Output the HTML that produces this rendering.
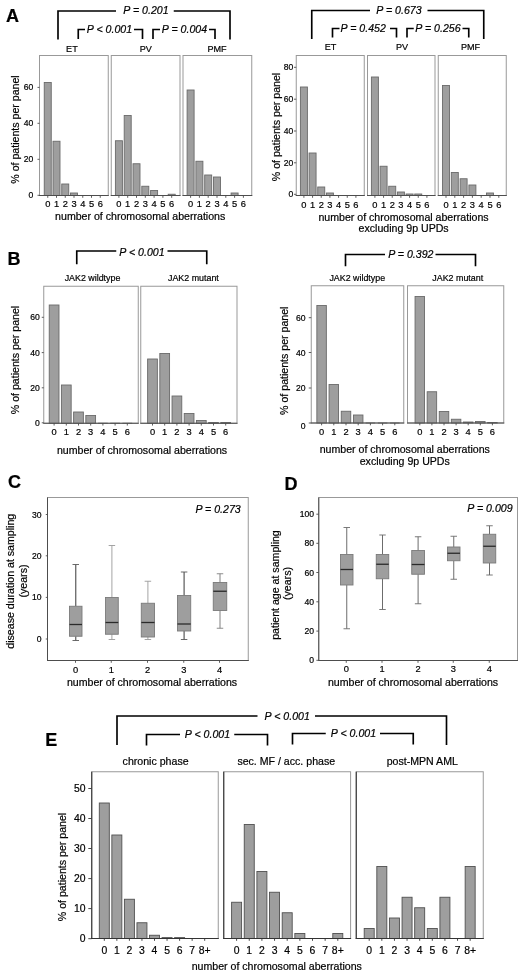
<!DOCTYPE html>
<html lang="en">
<head>
<meta charset="utf-8">
<title>Figure</title>
<style>
html,body{margin:0;padding:0;background:#fff;}
body{width:520px;height:971px;overflow:hidden;}
svg{display:block;font-family:'Liberation Sans', Arial, sans-serif;}
text{stroke:#000;stroke-width:0.2px;}
</style>
</head>
<body>
<svg width="520" height="971" viewBox="0 0 520 971">
<rect x="0" y="0" width="520" height="971" fill="#ffffff"/>
<text x="12.5" y="22" font-size="18" text-anchor="middle" fill="#000" font-weight="bold">A</text>
<path d="M58 39.5V11H116" fill="none" stroke="#000" stroke-width="1.65" stroke-linejoin="miter"/>
<path d="M173.75 11H230V39.5" fill="none" stroke="#000" stroke-width="1.65" stroke-linejoin="miter"/>
<text x="146" y="14.3" font-size="10.6" text-anchor="middle" fill="#000" font-style="italic">P = 0.201</text>
<path d="M78.25 39V29.5H85" fill="none" stroke="#000" stroke-width="1.65" stroke-linejoin="miter"/>
<path d="M134 29.5H142.5V39" fill="none" stroke="#000" stroke-width="1.65" stroke-linejoin="miter"/>
<text x="109.5" y="32.8" font-size="10.6" text-anchor="middle" fill="#000" font-style="italic">P &lt; 0.001</text>
<path d="M153 39V29.5H160" fill="none" stroke="#000" stroke-width="1.65" stroke-linejoin="miter"/>
<path d="M209 29.5H215V39" fill="none" stroke="#000" stroke-width="1.65" stroke-linejoin="miter"/>
<text x="184.5" y="32.8" font-size="10.6" text-anchor="middle" fill="#000" font-style="italic">P = 0.004</text>
<rect x="39.5" y="55.5" width="68.75" height="140" fill="#fff" stroke="#999" stroke-width="1"/>
<rect x="44.25" y="82.5" width="7" height="113" fill="#9e9e9e" stroke="#6a6a6a" stroke-width="0.9"/>
<rect x="53" y="141.25" width="7" height="54.25" fill="#9e9e9e" stroke="#6a6a6a" stroke-width="0.9"/>
<rect x="61.75" y="184" width="7" height="11.5" fill="#9e9e9e" stroke="#6a6a6a" stroke-width="0.9"/>
<rect x="70.5" y="193" width="7" height="2.5" fill="#9e9e9e" stroke="#6a6a6a" stroke-width="0.9"/>
<line x1="79.25" y1="195.5" x2="86.25" y2="195.5" stroke="#6a6a6a" stroke-width="0.9"/>
<line x1="88" y1="195.5" x2="95" y2="195.5" stroke="#6a6a6a" stroke-width="0.9"/>
<line x1="96.75" y1="195.5" x2="103.75" y2="195.5" stroke="#6a6a6a" stroke-width="0.9"/>
<line x1="39" y1="195.5" x2="108.75" y2="195.5" stroke="#4d4d4d" stroke-width="1"/>
<line x1="47.75" y1="195.5" x2="47.75" y2="197.8" stroke="#4d4d4d" stroke-width="0.9"/>
<text x="47.75" y="207.3" font-size="9.3" text-anchor="middle" fill="#000">0</text>
<line x1="56.5" y1="195.5" x2="56.5" y2="197.8" stroke="#4d4d4d" stroke-width="0.9"/>
<text x="56.5" y="207.3" font-size="9.3" text-anchor="middle" fill="#000">1</text>
<line x1="65.25" y1="195.5" x2="65.25" y2="197.8" stroke="#4d4d4d" stroke-width="0.9"/>
<text x="65.25" y="207.3" font-size="9.3" text-anchor="middle" fill="#000">2</text>
<line x1="74" y1="195.5" x2="74" y2="197.8" stroke="#4d4d4d" stroke-width="0.9"/>
<text x="74" y="207.3" font-size="9.3" text-anchor="middle" fill="#000">3</text>
<line x1="82.75" y1="195.5" x2="82.75" y2="197.8" stroke="#4d4d4d" stroke-width="0.9"/>
<text x="82.75" y="207.3" font-size="9.3" text-anchor="middle" fill="#000">4</text>
<line x1="91.5" y1="195.5" x2="91.5" y2="197.8" stroke="#4d4d4d" stroke-width="0.9"/>
<text x="91.5" y="207.3" font-size="9.3" text-anchor="middle" fill="#000">5</text>
<line x1="100.25" y1="195.5" x2="100.25" y2="197.8" stroke="#4d4d4d" stroke-width="0.9"/>
<text x="100.25" y="207.3" font-size="9.3" text-anchor="middle" fill="#000">6</text>
<text x="71.9" y="52.3" font-size="9.1" text-anchor="middle" fill="#000">ET</text>
<rect x="111.25" y="55.5" width="68.75" height="140" fill="#fff" stroke="#999" stroke-width="1"/>
<rect x="115.4" y="140.75" width="7" height="54.75" fill="#9e9e9e" stroke="#6a6a6a" stroke-width="0.9"/>
<rect x="124.2" y="115.5" width="7" height="80" fill="#9e9e9e" stroke="#6a6a6a" stroke-width="0.9"/>
<rect x="133" y="163.75" width="7" height="31.75" fill="#9e9e9e" stroke="#6a6a6a" stroke-width="0.9"/>
<rect x="141.8" y="186.25" width="7" height="9.25" fill="#9e9e9e" stroke="#6a6a6a" stroke-width="0.9"/>
<rect x="150.6" y="190.5" width="7" height="5" fill="#9e9e9e" stroke="#6a6a6a" stroke-width="0.9"/>
<line x1="159.4" y1="195.5" x2="166.4" y2="195.5" stroke="#6a6a6a" stroke-width="0.9"/>
<rect x="168.2" y="194.25" width="7" height="1.25" fill="#9e9e9e" stroke="#6a6a6a" stroke-width="0.9"/>
<line x1="110.75" y1="195.5" x2="180.5" y2="195.5" stroke="#4d4d4d" stroke-width="1"/>
<line x1="118.9" y1="195.5" x2="118.9" y2="197.8" stroke="#4d4d4d" stroke-width="0.9"/>
<text x="118.9" y="207.3" font-size="9.3" text-anchor="middle" fill="#000">0</text>
<line x1="127.7" y1="195.5" x2="127.7" y2="197.8" stroke="#4d4d4d" stroke-width="0.9"/>
<text x="127.7" y="207.3" font-size="9.3" text-anchor="middle" fill="#000">1</text>
<line x1="136.5" y1="195.5" x2="136.5" y2="197.8" stroke="#4d4d4d" stroke-width="0.9"/>
<text x="136.5" y="207.3" font-size="9.3" text-anchor="middle" fill="#000">2</text>
<line x1="145.3" y1="195.5" x2="145.3" y2="197.8" stroke="#4d4d4d" stroke-width="0.9"/>
<text x="145.3" y="207.3" font-size="9.3" text-anchor="middle" fill="#000">3</text>
<line x1="154.1" y1="195.5" x2="154.1" y2="197.8" stroke="#4d4d4d" stroke-width="0.9"/>
<text x="154.1" y="207.3" font-size="9.3" text-anchor="middle" fill="#000">4</text>
<line x1="162.9" y1="195.5" x2="162.9" y2="197.8" stroke="#4d4d4d" stroke-width="0.9"/>
<text x="162.9" y="207.3" font-size="9.3" text-anchor="middle" fill="#000">5</text>
<line x1="171.7" y1="195.5" x2="171.7" y2="197.8" stroke="#4d4d4d" stroke-width="0.9"/>
<text x="171.7" y="207.3" font-size="9.3" text-anchor="middle" fill="#000">6</text>
<text x="145.75" y="52.3" font-size="9.1" text-anchor="middle" fill="#000">PV</text>
<rect x="183" y="55.5" width="68.75" height="140" fill="#fff" stroke="#999" stroke-width="1"/>
<rect x="187.1" y="90" width="7" height="105.5" fill="#9e9e9e" stroke="#6a6a6a" stroke-width="0.9"/>
<rect x="195.9" y="161.25" width="7" height="34.25" fill="#9e9e9e" stroke="#6a6a6a" stroke-width="0.9"/>
<rect x="204.7" y="175" width="7" height="20.5" fill="#9e9e9e" stroke="#6a6a6a" stroke-width="0.9"/>
<rect x="213.5" y="177" width="7" height="18.5" fill="#9e9e9e" stroke="#6a6a6a" stroke-width="0.9"/>
<line x1="222.3" y1="195.5" x2="229.3" y2="195.5" stroke="#6a6a6a" stroke-width="0.9"/>
<rect x="231.1" y="193" width="7" height="2.5" fill="#9e9e9e" stroke="#6a6a6a" stroke-width="0.9"/>
<line x1="239.9" y1="195.5" x2="246.9" y2="195.5" stroke="#6a6a6a" stroke-width="0.9"/>
<line x1="182.5" y1="195.5" x2="252.25" y2="195.5" stroke="#4d4d4d" stroke-width="1"/>
<line x1="190.6" y1="195.5" x2="190.6" y2="197.8" stroke="#4d4d4d" stroke-width="0.9"/>
<text x="190.6" y="207.3" font-size="9.3" text-anchor="middle" fill="#000">0</text>
<line x1="199.4" y1="195.5" x2="199.4" y2="197.8" stroke="#4d4d4d" stroke-width="0.9"/>
<text x="199.4" y="207.3" font-size="9.3" text-anchor="middle" fill="#000">1</text>
<line x1="208.2" y1="195.5" x2="208.2" y2="197.8" stroke="#4d4d4d" stroke-width="0.9"/>
<text x="208.2" y="207.3" font-size="9.3" text-anchor="middle" fill="#000">2</text>
<line x1="217" y1="195.5" x2="217" y2="197.8" stroke="#4d4d4d" stroke-width="0.9"/>
<text x="217" y="207.3" font-size="9.3" text-anchor="middle" fill="#000">3</text>
<line x1="225.8" y1="195.5" x2="225.8" y2="197.8" stroke="#4d4d4d" stroke-width="0.9"/>
<text x="225.8" y="207.3" font-size="9.3" text-anchor="middle" fill="#000">4</text>
<line x1="234.6" y1="195.5" x2="234.6" y2="197.8" stroke="#4d4d4d" stroke-width="0.9"/>
<text x="234.6" y="207.3" font-size="9.3" text-anchor="middle" fill="#000">5</text>
<line x1="243.4" y1="195.5" x2="243.4" y2="197.8" stroke="#4d4d4d" stroke-width="0.9"/>
<text x="243.4" y="207.3" font-size="9.3" text-anchor="middle" fill="#000">6</text>
<text x="217" y="52.3" font-size="9.1" text-anchor="middle" fill="#000">PMF</text>
<line x1="37.5" y1="195.3" x2="39.5" y2="195.3" stroke="#4d4d4d" stroke-width="0.9"/>
<text x="33.4" y="198.38" font-size="8.6" text-anchor="end" fill="#000">0</text>
<line x1="37.5" y1="159.3" x2="39.5" y2="159.3" stroke="#4d4d4d" stroke-width="0.9"/>
<text x="33.4" y="162.38" font-size="8.6" text-anchor="end" fill="#000">20</text>
<line x1="37.5" y1="123.3" x2="39.5" y2="123.3" stroke="#4d4d4d" stroke-width="0.9"/>
<text x="33.4" y="126.38" font-size="8.6" text-anchor="end" fill="#000">40</text>
<line x1="37.5" y1="87.4" x2="39.5" y2="87.4" stroke="#4d4d4d" stroke-width="0.9"/>
<text x="33.4" y="90.48" font-size="8.6" text-anchor="end" fill="#000">60</text>
<text x="18.7" y="129.5" font-size="10.6" text-anchor="middle" fill="#000" transform="rotate(-90 18.7 129.5)">% of patients per panel</text>
<text x="140.2" y="220" font-size="10.6" text-anchor="middle" fill="#000">number of chromosomal aberrations</text>
<path d="M311.75 39V10.5H370" fill="none" stroke="#000" stroke-width="1.65" stroke-linejoin="miter"/>
<path d="M427.5 10.5H483.75V39" fill="none" stroke="#000" stroke-width="1.65" stroke-linejoin="miter"/>
<text x="399" y="14" font-size="10.6" text-anchor="middle" fill="#000" font-style="italic">P = 0.673</text>
<path d="M332.5 37.5V28.5H339.5" fill="none" stroke="#000" stroke-width="1.65" stroke-linejoin="miter"/>
<path d="M390 28.5H396.5V37.5" fill="none" stroke="#000" stroke-width="1.65" stroke-linejoin="miter"/>
<text x="363.2" y="32" font-size="10.6" text-anchor="middle" fill="#000" font-style="italic">P = 0.452</text>
<path d="M407 37.5V28.5H413.75" fill="none" stroke="#000" stroke-width="1.65" stroke-linejoin="miter"/>
<path d="M462.5 28.5H468.75V37.5" fill="none" stroke="#000" stroke-width="1.65" stroke-linejoin="miter"/>
<text x="438" y="32" font-size="10.6" text-anchor="middle" fill="#000" font-style="italic">P = 0.256</text>
<rect x="296.25" y="55.5" width="68" height="140" fill="#fff" stroke="#999" stroke-width="1"/>
<rect x="300.4" y="87" width="7" height="108.5" fill="#9e9e9e" stroke="#6a6a6a" stroke-width="0.9"/>
<rect x="309.07" y="153" width="7" height="42.5" fill="#9e9e9e" stroke="#6a6a6a" stroke-width="0.9"/>
<rect x="317.74" y="187" width="7" height="8.5" fill="#9e9e9e" stroke="#6a6a6a" stroke-width="0.9"/>
<rect x="326.41" y="193" width="7" height="2.5" fill="#9e9e9e" stroke="#6a6a6a" stroke-width="0.9"/>
<line x1="335.08" y1="195.5" x2="342.08" y2="195.5" stroke="#6a6a6a" stroke-width="0.9"/>
<line x1="343.75" y1="195.5" x2="350.75" y2="195.5" stroke="#6a6a6a" stroke-width="0.9"/>
<line x1="352.42" y1="195.5" x2="359.42" y2="195.5" stroke="#6a6a6a" stroke-width="0.9"/>
<line x1="295.75" y1="195.5" x2="364.75" y2="195.5" stroke="#4d4d4d" stroke-width="1"/>
<line x1="303.9" y1="195.5" x2="303.9" y2="197.8" stroke="#4d4d4d" stroke-width="0.9"/>
<text x="303.9" y="207.5" font-size="9.3" text-anchor="middle" fill="#000">0</text>
<line x1="312.57" y1="195.5" x2="312.57" y2="197.8" stroke="#4d4d4d" stroke-width="0.9"/>
<text x="312.57" y="207.5" font-size="9.3" text-anchor="middle" fill="#000">1</text>
<line x1="321.24" y1="195.5" x2="321.24" y2="197.8" stroke="#4d4d4d" stroke-width="0.9"/>
<text x="321.24" y="207.5" font-size="9.3" text-anchor="middle" fill="#000">2</text>
<line x1="329.91" y1="195.5" x2="329.91" y2="197.8" stroke="#4d4d4d" stroke-width="0.9"/>
<text x="329.91" y="207.5" font-size="9.3" text-anchor="middle" fill="#000">3</text>
<line x1="338.58" y1="195.5" x2="338.58" y2="197.8" stroke="#4d4d4d" stroke-width="0.9"/>
<text x="338.58" y="207.5" font-size="9.3" text-anchor="middle" fill="#000">4</text>
<line x1="347.25" y1="195.5" x2="347.25" y2="197.8" stroke="#4d4d4d" stroke-width="0.9"/>
<text x="347.25" y="207.5" font-size="9.3" text-anchor="middle" fill="#000">5</text>
<line x1="355.92" y1="195.5" x2="355.92" y2="197.8" stroke="#4d4d4d" stroke-width="0.9"/>
<text x="355.92" y="207.5" font-size="9.3" text-anchor="middle" fill="#000">6</text>
<text x="330.5" y="50" font-size="9.1" text-anchor="middle" fill="#000">ET</text>
<rect x="367.5" y="55.5" width="67.5" height="140" fill="#fff" stroke="#999" stroke-width="1"/>
<rect x="371.4" y="77" width="7" height="118.5" fill="#9e9e9e" stroke="#6a6a6a" stroke-width="0.9"/>
<rect x="380.07" y="166.25" width="7" height="29.25" fill="#9e9e9e" stroke="#6a6a6a" stroke-width="0.9"/>
<rect x="388.74" y="186.25" width="7" height="9.25" fill="#9e9e9e" stroke="#6a6a6a" stroke-width="0.9"/>
<rect x="397.41" y="192" width="7" height="3.5" fill="#9e9e9e" stroke="#6a6a6a" stroke-width="0.9"/>
<rect x="406.08" y="194" width="7" height="1.5" fill="#9e9e9e" stroke="#6a6a6a" stroke-width="0.9"/>
<rect x="414.75" y="194" width="7" height="1.5" fill="#9e9e9e" stroke="#6a6a6a" stroke-width="0.9"/>
<line x1="423.42" y1="195.5" x2="430.42" y2="195.5" stroke="#6a6a6a" stroke-width="0.9"/>
<line x1="367" y1="195.5" x2="435.5" y2="195.5" stroke="#4d4d4d" stroke-width="1"/>
<line x1="374.9" y1="195.5" x2="374.9" y2="197.8" stroke="#4d4d4d" stroke-width="0.9"/>
<text x="374.9" y="207.5" font-size="9.3" text-anchor="middle" fill="#000">0</text>
<line x1="383.57" y1="195.5" x2="383.57" y2="197.8" stroke="#4d4d4d" stroke-width="0.9"/>
<text x="383.57" y="207.5" font-size="9.3" text-anchor="middle" fill="#000">1</text>
<line x1="392.24" y1="195.5" x2="392.24" y2="197.8" stroke="#4d4d4d" stroke-width="0.9"/>
<text x="392.24" y="207.5" font-size="9.3" text-anchor="middle" fill="#000">2</text>
<line x1="400.91" y1="195.5" x2="400.91" y2="197.8" stroke="#4d4d4d" stroke-width="0.9"/>
<text x="400.91" y="207.5" font-size="9.3" text-anchor="middle" fill="#000">3</text>
<line x1="409.58" y1="195.5" x2="409.58" y2="197.8" stroke="#4d4d4d" stroke-width="0.9"/>
<text x="409.58" y="207.5" font-size="9.3" text-anchor="middle" fill="#000">4</text>
<line x1="418.25" y1="195.5" x2="418.25" y2="197.8" stroke="#4d4d4d" stroke-width="0.9"/>
<text x="418.25" y="207.5" font-size="9.3" text-anchor="middle" fill="#000">5</text>
<line x1="426.92" y1="195.5" x2="426.92" y2="197.8" stroke="#4d4d4d" stroke-width="0.9"/>
<text x="426.92" y="207.5" font-size="9.3" text-anchor="middle" fill="#000">6</text>
<text x="402" y="50" font-size="9.1" text-anchor="middle" fill="#000">PV</text>
<rect x="438.25" y="55.5" width="68" height="140" fill="#fff" stroke="#999" stroke-width="1"/>
<rect x="442.5" y="85.5" width="7" height="110" fill="#9e9e9e" stroke="#6a6a6a" stroke-width="0.9"/>
<rect x="451.3" y="172.5" width="7" height="23" fill="#9e9e9e" stroke="#6a6a6a" stroke-width="0.9"/>
<rect x="460.1" y="178.75" width="7" height="16.75" fill="#9e9e9e" stroke="#6a6a6a" stroke-width="0.9"/>
<rect x="468.9" y="185" width="7" height="10.5" fill="#9e9e9e" stroke="#6a6a6a" stroke-width="0.9"/>
<line x1="477.7" y1="195.5" x2="484.7" y2="195.5" stroke="#6a6a6a" stroke-width="0.9"/>
<rect x="486.5" y="193" width="7" height="2.5" fill="#9e9e9e" stroke="#6a6a6a" stroke-width="0.9"/>
<line x1="495.3" y1="195.5" x2="502.3" y2="195.5" stroke="#6a6a6a" stroke-width="0.9"/>
<line x1="437.75" y1="195.5" x2="506.75" y2="195.5" stroke="#4d4d4d" stroke-width="1"/>
<line x1="446" y1="195.5" x2="446" y2="197.8" stroke="#4d4d4d" stroke-width="0.9"/>
<text x="446" y="207.5" font-size="9.3" text-anchor="middle" fill="#000">0</text>
<line x1="454.8" y1="195.5" x2="454.8" y2="197.8" stroke="#4d4d4d" stroke-width="0.9"/>
<text x="454.8" y="207.5" font-size="9.3" text-anchor="middle" fill="#000">1</text>
<line x1="463.6" y1="195.5" x2="463.6" y2="197.8" stroke="#4d4d4d" stroke-width="0.9"/>
<text x="463.6" y="207.5" font-size="9.3" text-anchor="middle" fill="#000">2</text>
<line x1="472.4" y1="195.5" x2="472.4" y2="197.8" stroke="#4d4d4d" stroke-width="0.9"/>
<text x="472.4" y="207.5" font-size="9.3" text-anchor="middle" fill="#000">3</text>
<line x1="481.2" y1="195.5" x2="481.2" y2="197.8" stroke="#4d4d4d" stroke-width="0.9"/>
<text x="481.2" y="207.5" font-size="9.3" text-anchor="middle" fill="#000">4</text>
<line x1="490" y1="195.5" x2="490" y2="197.8" stroke="#4d4d4d" stroke-width="0.9"/>
<text x="490" y="207.5" font-size="9.3" text-anchor="middle" fill="#000">5</text>
<line x1="498.8" y1="195.5" x2="498.8" y2="197.8" stroke="#4d4d4d" stroke-width="0.9"/>
<text x="498.8" y="207.5" font-size="9.3" text-anchor="middle" fill="#000">6</text>
<text x="470.5" y="50" font-size="9.1" text-anchor="middle" fill="#000">PMF</text>
<line x1="293.95" y1="194.3" x2="296.25" y2="194.3" stroke="#4d4d4d" stroke-width="0.9"/>
<text x="293.4" y="197.38" font-size="8.6" text-anchor="end" fill="#000">0</text>
<line x1="293.95" y1="162.8" x2="296.25" y2="162.8" stroke="#4d4d4d" stroke-width="0.9"/>
<text x="293.4" y="165.88" font-size="8.6" text-anchor="end" fill="#000">20</text>
<line x1="293.95" y1="131" x2="296.25" y2="131" stroke="#4d4d4d" stroke-width="0.9"/>
<text x="293.4" y="134.08" font-size="8.6" text-anchor="end" fill="#000">40</text>
<line x1="293.95" y1="99.2" x2="296.25" y2="99.2" stroke="#4d4d4d" stroke-width="0.9"/>
<text x="293.4" y="102.28" font-size="8.6" text-anchor="end" fill="#000">60</text>
<line x1="293.95" y1="67.3" x2="296.25" y2="67.3" stroke="#4d4d4d" stroke-width="0.9"/>
<text x="293.4" y="70.38" font-size="8.6" text-anchor="end" fill="#000">80</text>
<text x="279.5" y="127" font-size="10.6" text-anchor="middle" fill="#000" transform="rotate(-90 279.5 127)">% of patients per panel</text>
<text x="403.5" y="220.75" font-size="10.6" text-anchor="middle" fill="#000">number of chromosomal aberrations</text>
<text x="403.6" y="232.3" font-size="10.6" text-anchor="middle" fill="#000">excluding 9p UPDs</text>
<text x="14.1" y="265" font-size="18" text-anchor="middle" fill="#000" font-weight="bold">B</text>
<path d="M76.75 264.25V251H116.25" fill="none" stroke="#000" stroke-width="1.65" stroke-linejoin="miter"/>
<path d="M167.5 251H206.75V264.25" fill="none" stroke="#000" stroke-width="1.65" stroke-linejoin="miter"/>
<text x="142" y="255.7" font-size="10.6" text-anchor="middle" fill="#000" font-style="italic">P &lt; 0.001</text>
<rect x="43.75" y="286.25" width="94.5" height="137" fill="#fff" stroke="#999" stroke-width="1"/>
<rect x="49.23" y="305" width="9.75" height="118.25" fill="#9e9e9e" stroke="#6a6a6a" stroke-width="0.9"/>
<rect x="61.42" y="385" width="9.75" height="38.25" fill="#9e9e9e" stroke="#6a6a6a" stroke-width="0.9"/>
<rect x="73.62" y="412" width="9.75" height="11.25" fill="#9e9e9e" stroke="#6a6a6a" stroke-width="0.9"/>
<rect x="85.82" y="415.5" width="9.75" height="7.75" fill="#9e9e9e" stroke="#6a6a6a" stroke-width="0.9"/>
<line x1="98.03" y1="423.25" x2="107.78" y2="423.25" stroke="#6a6a6a" stroke-width="0.9"/>
<line x1="110.22" y1="423.25" x2="119.97" y2="423.25" stroke="#6a6a6a" stroke-width="0.9"/>
<line x1="122.42" y1="423.25" x2="132.17" y2="423.25" stroke="#6a6a6a" stroke-width="0.9"/>
<line x1="43.25" y1="423.25" x2="138.75" y2="423.25" stroke="#4d4d4d" stroke-width="1"/>
<line x1="54.1" y1="423.25" x2="54.1" y2="425.55" stroke="#4d4d4d" stroke-width="0.9"/>
<text x="54.1" y="435" font-size="9.3" text-anchor="middle" fill="#000">0</text>
<line x1="66.3" y1="423.25" x2="66.3" y2="425.55" stroke="#4d4d4d" stroke-width="0.9"/>
<text x="66.3" y="435" font-size="9.3" text-anchor="middle" fill="#000">1</text>
<line x1="78.5" y1="423.25" x2="78.5" y2="425.55" stroke="#4d4d4d" stroke-width="0.9"/>
<text x="78.5" y="435" font-size="9.3" text-anchor="middle" fill="#000">2</text>
<line x1="90.7" y1="423.25" x2="90.7" y2="425.55" stroke="#4d4d4d" stroke-width="0.9"/>
<text x="90.7" y="435" font-size="9.3" text-anchor="middle" fill="#000">3</text>
<line x1="102.9" y1="423.25" x2="102.9" y2="425.55" stroke="#4d4d4d" stroke-width="0.9"/>
<text x="102.9" y="435" font-size="9.3" text-anchor="middle" fill="#000">4</text>
<line x1="115.1" y1="423.25" x2="115.1" y2="425.55" stroke="#4d4d4d" stroke-width="0.9"/>
<text x="115.1" y="435" font-size="9.3" text-anchor="middle" fill="#000">5</text>
<line x1="127.3" y1="423.25" x2="127.3" y2="425.55" stroke="#4d4d4d" stroke-width="0.9"/>
<text x="127.3" y="435" font-size="9.3" text-anchor="middle" fill="#000">6</text>
<text x="92.5" y="281" font-size="8.9" text-anchor="middle" fill="#000">JAK2 wildtype</text>
<rect x="140.75" y="286.25" width="96.25" height="137" fill="#fff" stroke="#999" stroke-width="1"/>
<rect x="147.62" y="359" width="9.75" height="64.25" fill="#9e9e9e" stroke="#6a6a6a" stroke-width="0.9"/>
<rect x="159.82" y="353.5" width="9.75" height="69.75" fill="#9e9e9e" stroke="#6a6a6a" stroke-width="0.9"/>
<rect x="172.03" y="396" width="9.75" height="27.25" fill="#9e9e9e" stroke="#6a6a6a" stroke-width="0.9"/>
<rect x="184.22" y="413.5" width="9.75" height="9.75" fill="#9e9e9e" stroke="#6a6a6a" stroke-width="0.9"/>
<rect x="196.43" y="420.5" width="9.75" height="2.75" fill="#9e9e9e" stroke="#6a6a6a" stroke-width="0.9"/>
<rect x="208.62" y="422.5" width="9.75" height="0.75" fill="#9e9e9e" stroke="#6a6a6a" stroke-width="0.9"/>
<rect x="220.82" y="422.5" width="9.75" height="0.75" fill="#9e9e9e" stroke="#6a6a6a" stroke-width="0.9"/>
<line x1="140.25" y1="423.25" x2="237.5" y2="423.25" stroke="#4d4d4d" stroke-width="1"/>
<line x1="152.5" y1="423.25" x2="152.5" y2="425.55" stroke="#4d4d4d" stroke-width="0.9"/>
<text x="152.5" y="435" font-size="9.3" text-anchor="middle" fill="#000">0</text>
<line x1="164.7" y1="423.25" x2="164.7" y2="425.55" stroke="#4d4d4d" stroke-width="0.9"/>
<text x="164.7" y="435" font-size="9.3" text-anchor="middle" fill="#000">1</text>
<line x1="176.9" y1="423.25" x2="176.9" y2="425.55" stroke="#4d4d4d" stroke-width="0.9"/>
<text x="176.9" y="435" font-size="9.3" text-anchor="middle" fill="#000">2</text>
<line x1="189.1" y1="423.25" x2="189.1" y2="425.55" stroke="#4d4d4d" stroke-width="0.9"/>
<text x="189.1" y="435" font-size="9.3" text-anchor="middle" fill="#000">3</text>
<line x1="201.3" y1="423.25" x2="201.3" y2="425.55" stroke="#4d4d4d" stroke-width="0.9"/>
<text x="201.3" y="435" font-size="9.3" text-anchor="middle" fill="#000">4</text>
<line x1="213.5" y1="423.25" x2="213.5" y2="425.55" stroke="#4d4d4d" stroke-width="0.9"/>
<text x="213.5" y="435" font-size="9.3" text-anchor="middle" fill="#000">5</text>
<line x1="225.7" y1="423.25" x2="225.7" y2="425.55" stroke="#4d4d4d" stroke-width="0.9"/>
<text x="225.7" y="435" font-size="9.3" text-anchor="middle" fill="#000">6</text>
<text x="193.4" y="281" font-size="8.9" text-anchor="middle" fill="#000">JAK2 mutant</text>
<line x1="41.75" y1="422.8" x2="43.75" y2="422.8" stroke="#4d4d4d" stroke-width="0.9"/>
<text x="39.8" y="425.88" font-size="8.6" text-anchor="end" fill="#000">0</text>
<line x1="41.75" y1="387.8" x2="43.75" y2="387.8" stroke="#4d4d4d" stroke-width="0.9"/>
<text x="39.8" y="390.88" font-size="8.6" text-anchor="end" fill="#000">20</text>
<line x1="41.75" y1="352.6" x2="43.75" y2="352.6" stroke="#4d4d4d" stroke-width="0.9"/>
<text x="39.8" y="355.68" font-size="8.6" text-anchor="end" fill="#000">40</text>
<line x1="41.75" y1="317.3" x2="43.75" y2="317.3" stroke="#4d4d4d" stroke-width="0.9"/>
<text x="39.8" y="320.38" font-size="8.6" text-anchor="end" fill="#000">60</text>
<text x="18.7" y="360" font-size="10.6" text-anchor="middle" fill="#000" transform="rotate(-90 18.7 360)">% of patients per panel</text>
<text x="142" y="453.75" font-size="10.6" text-anchor="middle" fill="#000">number of chromosomal aberrations</text>
<path d="M345.5 266.25V254.5H385" fill="none" stroke="#000" stroke-width="1.65" stroke-linejoin="miter"/>
<path d="M435.5 254.5H475.5V266.25" fill="none" stroke="#000" stroke-width="1.65" stroke-linejoin="miter"/>
<text x="410.8" y="258.3" font-size="10.6" text-anchor="middle" fill="#000" font-style="italic">P = 0.392</text>
<rect x="311.25" y="285.75" width="92.5" height="137.25" fill="#fff" stroke="#999" stroke-width="1"/>
<rect x="316.85" y="305.5" width="9.5" height="117.5" fill="#9e9e9e" stroke="#6a6a6a" stroke-width="0.9"/>
<rect x="329.05" y="384.5" width="9.5" height="38.5" fill="#9e9e9e" stroke="#6a6a6a" stroke-width="0.9"/>
<rect x="341.25" y="411.25" width="9.5" height="11.75" fill="#9e9e9e" stroke="#6a6a6a" stroke-width="0.9"/>
<rect x="353.45" y="415" width="9.5" height="8" fill="#9e9e9e" stroke="#6a6a6a" stroke-width="0.9"/>
<line x1="365.65" y1="423" x2="375.15" y2="423" stroke="#6a6a6a" stroke-width="0.9"/>
<line x1="377.85" y1="423" x2="387.35" y2="423" stroke="#6a6a6a" stroke-width="0.9"/>
<line x1="390.05" y1="423" x2="399.55" y2="423" stroke="#6a6a6a" stroke-width="0.9"/>
<line x1="310.75" y1="423" x2="404.25" y2="423" stroke="#4d4d4d" stroke-width="1"/>
<line x1="321.6" y1="423" x2="321.6" y2="425.3" stroke="#4d4d4d" stroke-width="0.9"/>
<text x="321.6" y="434.5" font-size="9.3" text-anchor="middle" fill="#000">0</text>
<line x1="333.8" y1="423" x2="333.8" y2="425.3" stroke="#4d4d4d" stroke-width="0.9"/>
<text x="333.8" y="434.5" font-size="9.3" text-anchor="middle" fill="#000">1</text>
<line x1="346" y1="423" x2="346" y2="425.3" stroke="#4d4d4d" stroke-width="0.9"/>
<text x="346" y="434.5" font-size="9.3" text-anchor="middle" fill="#000">2</text>
<line x1="358.2" y1="423" x2="358.2" y2="425.3" stroke="#4d4d4d" stroke-width="0.9"/>
<text x="358.2" y="434.5" font-size="9.3" text-anchor="middle" fill="#000">3</text>
<line x1="370.4" y1="423" x2="370.4" y2="425.3" stroke="#4d4d4d" stroke-width="0.9"/>
<text x="370.4" y="434.5" font-size="9.3" text-anchor="middle" fill="#000">4</text>
<line x1="382.6" y1="423" x2="382.6" y2="425.3" stroke="#4d4d4d" stroke-width="0.9"/>
<text x="382.6" y="434.5" font-size="9.3" text-anchor="middle" fill="#000">5</text>
<line x1="394.8" y1="423" x2="394.8" y2="425.3" stroke="#4d4d4d" stroke-width="0.9"/>
<text x="394.8" y="434.5" font-size="9.3" text-anchor="middle" fill="#000">6</text>
<text x="357.25" y="281.25" font-size="8.9" text-anchor="middle" fill="#000">JAK2 wildtype</text>
<rect x="407.5" y="285.75" width="96.25" height="137.25" fill="#fff" stroke="#999" stroke-width="1"/>
<rect x="415.05" y="296.5" width="9.5" height="126.5" fill="#9e9e9e" stroke="#6a6a6a" stroke-width="0.9"/>
<rect x="427.15" y="391.75" width="9.5" height="31.25" fill="#9e9e9e" stroke="#6a6a6a" stroke-width="0.9"/>
<rect x="439.25" y="411.5" width="9.5" height="11.5" fill="#9e9e9e" stroke="#6a6a6a" stroke-width="0.9"/>
<rect x="451.35" y="419.25" width="9.5" height="3.75" fill="#9e9e9e" stroke="#6a6a6a" stroke-width="0.9"/>
<rect x="463.45" y="422" width="9.5" height="1" fill="#9e9e9e" stroke="#6a6a6a" stroke-width="0.9"/>
<rect x="475.55" y="421.5" width="9.5" height="1.5" fill="#9e9e9e" stroke="#6a6a6a" stroke-width="0.9"/>
<rect x="487.65" y="422.5" width="9.5" height="0.5" fill="#9e9e9e" stroke="#6a6a6a" stroke-width="0.9"/>
<line x1="407" y1="423" x2="504.25" y2="423" stroke="#4d4d4d" stroke-width="1"/>
<line x1="419.8" y1="423" x2="419.8" y2="425.3" stroke="#4d4d4d" stroke-width="0.9"/>
<text x="419.8" y="434.5" font-size="9.3" text-anchor="middle" fill="#000">0</text>
<line x1="431.9" y1="423" x2="431.9" y2="425.3" stroke="#4d4d4d" stroke-width="0.9"/>
<text x="431.9" y="434.5" font-size="9.3" text-anchor="middle" fill="#000">1</text>
<line x1="444" y1="423" x2="444" y2="425.3" stroke="#4d4d4d" stroke-width="0.9"/>
<text x="444" y="434.5" font-size="9.3" text-anchor="middle" fill="#000">2</text>
<line x1="456.1" y1="423" x2="456.1" y2="425.3" stroke="#4d4d4d" stroke-width="0.9"/>
<text x="456.1" y="434.5" font-size="9.3" text-anchor="middle" fill="#000">3</text>
<line x1="468.2" y1="423" x2="468.2" y2="425.3" stroke="#4d4d4d" stroke-width="0.9"/>
<text x="468.2" y="434.5" font-size="9.3" text-anchor="middle" fill="#000">4</text>
<line x1="480.3" y1="423" x2="480.3" y2="425.3" stroke="#4d4d4d" stroke-width="0.9"/>
<text x="480.3" y="434.5" font-size="9.3" text-anchor="middle" fill="#000">5</text>
<line x1="492.4" y1="423" x2="492.4" y2="425.3" stroke="#4d4d4d" stroke-width="0.9"/>
<text x="492.4" y="434.5" font-size="9.3" text-anchor="middle" fill="#000">6</text>
<text x="457.75" y="281.25" font-size="8.9" text-anchor="middle" fill="#000">JAK2 mutant</text>
<line x1="308.75" y1="423" x2="311.25" y2="423" stroke="#4d4d4d" stroke-width="0.9"/>
<text x="305.6" y="429.08" font-size="8.6" text-anchor="end" fill="#000">0</text>
<line x1="308.75" y1="388" x2="311.25" y2="388" stroke="#4d4d4d" stroke-width="0.9"/>
<text x="305.6" y="391.08" font-size="8.6" text-anchor="end" fill="#000">20</text>
<line x1="308.75" y1="352.5" x2="311.25" y2="352.5" stroke="#4d4d4d" stroke-width="0.9"/>
<text x="305.6" y="355.58" font-size="8.6" text-anchor="end" fill="#000">40</text>
<line x1="308.75" y1="317.7" x2="311.25" y2="317.7" stroke="#4d4d4d" stroke-width="0.9"/>
<text x="305.6" y="320.78" font-size="8.6" text-anchor="end" fill="#000">60</text>
<text x="288.2" y="360.7" font-size="10.6" text-anchor="middle" fill="#000" transform="rotate(-90 288.2 360.7)">% of patients per panel</text>
<text x="404.75" y="453" font-size="10.6" text-anchor="middle" fill="#000">number of chromosomal aberrations</text>
<text x="404.75" y="465.3" font-size="10.6" text-anchor="middle" fill="#000">excluding 9p UPDs</text>
<text x="14.4" y="487.5" font-size="18" text-anchor="middle" fill="#000" font-weight="bold">C</text>
<rect x="47.5" y="497.5" width="200.75" height="163" fill="#fff" stroke="#999" stroke-width="1"/>
<line x1="47.5" y1="497.5" x2="47.5" y2="660.5" stroke="#4d4d4d" stroke-width="1"/>
<line x1="47" y1="660.5" x2="248.75" y2="660.5" stroke="#4d4d4d" stroke-width="1"/>
<line x1="75.75" y1="564.5" x2="75.75" y2="606.25" stroke="#5a5a5a" stroke-width="1.2"/>
<line x1="75.75" y1="636.25" x2="75.75" y2="640.5" stroke="#5a5a5a" stroke-width="1.2"/>
<line x1="72.5" y1="564.5" x2="79" y2="564.5" stroke="#5a5a5a" stroke-width="0.9"/>
<line x1="72.5" y1="640.5" x2="79" y2="640.5" stroke="#5a5a5a" stroke-width="0.9"/>
<rect x="69.5" y="606.25" width="12.5" height="30" fill="#9e9e9e" stroke="#7a7a7a" stroke-width="0.9"/>
<line x1="69.5" y1="624.5" x2="82" y2="624.5" stroke="#2a2a2a" stroke-width="1.3"/>
<line x1="111.9" y1="545.5" x2="111.9" y2="597.5" stroke="#9a9a9a" stroke-width="0.9"/>
<line x1="111.9" y1="634.25" x2="111.9" y2="639.5" stroke="#9a9a9a" stroke-width="0.9"/>
<line x1="108.65" y1="545.5" x2="115.15" y2="545.5" stroke="#9a9a9a" stroke-width="0.9"/>
<line x1="108.65" y1="639.5" x2="115.15" y2="639.5" stroke="#9a9a9a" stroke-width="0.9"/>
<rect x="105.53" y="597.5" width="12.75" height="36.75" fill="#9e9e9e" stroke="#7a7a7a" stroke-width="0.9"/>
<line x1="105.53" y1="622.5" x2="118.28" y2="622.5" stroke="#2a2a2a" stroke-width="1.3"/>
<line x1="147.9" y1="581.25" x2="147.9" y2="603.25" stroke="#9a9a9a" stroke-width="0.9"/>
<line x1="147.9" y1="637" x2="147.9" y2="639.5" stroke="#9a9a9a" stroke-width="0.9"/>
<line x1="144.65" y1="581.25" x2="151.15" y2="581.25" stroke="#9a9a9a" stroke-width="0.9"/>
<line x1="144.65" y1="639.5" x2="151.15" y2="639.5" stroke="#9a9a9a" stroke-width="0.9"/>
<rect x="141.28" y="603.25" width="13.25" height="33.75" fill="#9e9e9e" stroke="#7a7a7a" stroke-width="0.9"/>
<line x1="141.28" y1="622.5" x2="154.53" y2="622.5" stroke="#2a2a2a" stroke-width="1.3"/>
<line x1="184.1" y1="572" x2="184.1" y2="595.5" stroke="#5a5a5a" stroke-width="1.2"/>
<line x1="184.1" y1="631" x2="184.1" y2="639.5" stroke="#5a5a5a" stroke-width="1.2"/>
<line x1="180.85" y1="572" x2="187.35" y2="572" stroke="#5a5a5a" stroke-width="0.9"/>
<line x1="180.85" y1="639.5" x2="187.35" y2="639.5" stroke="#5a5a5a" stroke-width="0.9"/>
<rect x="177.47" y="595.5" width="13.25" height="35.5" fill="#9e9e9e" stroke="#7a7a7a" stroke-width="0.9"/>
<line x1="177.47" y1="624" x2="190.72" y2="624" stroke="#2a2a2a" stroke-width="1.3"/>
<line x1="220" y1="573.75" x2="220" y2="582.5" stroke="#808080" stroke-width="1"/>
<line x1="220" y1="610.5" x2="220" y2="628.25" stroke="#808080" stroke-width="1"/>
<line x1="216.75" y1="573.75" x2="223.25" y2="573.75" stroke="#808080" stroke-width="0.9"/>
<line x1="216.75" y1="628.25" x2="223.25" y2="628.25" stroke="#808080" stroke-width="0.9"/>
<rect x="213.25" y="582.5" width="13.5" height="28" fill="#9e9e9e" stroke="#7a7a7a" stroke-width="0.9"/>
<line x1="213.25" y1="591.25" x2="226.75" y2="591.25" stroke="#2a2a2a" stroke-width="1.3"/>
<line x1="75.5" y1="660.5" x2="75.5" y2="662.8" stroke="#4d4d4d" stroke-width="0.9"/>
<text x="75.5" y="672.5" font-size="9.3" text-anchor="middle" fill="#000">0</text>
<line x1="111.25" y1="660.5" x2="111.25" y2="662.8" stroke="#4d4d4d" stroke-width="0.9"/>
<text x="111.25" y="672.5" font-size="9.3" text-anchor="middle" fill="#000">1</text>
<line x1="147.5" y1="660.5" x2="147.5" y2="662.8" stroke="#4d4d4d" stroke-width="0.9"/>
<text x="147.5" y="672.5" font-size="9.3" text-anchor="middle" fill="#000">2</text>
<line x1="183.75" y1="660.5" x2="183.75" y2="662.8" stroke="#4d4d4d" stroke-width="0.9"/>
<text x="183.75" y="672.5" font-size="9.3" text-anchor="middle" fill="#000">3</text>
<line x1="219.5" y1="660.5" x2="219.5" y2="662.8" stroke="#4d4d4d" stroke-width="0.9"/>
<text x="219.5" y="672.5" font-size="9.3" text-anchor="middle" fill="#000">4</text>
<line x1="45.75" y1="639" x2="47.75" y2="639" stroke="#4d4d4d" stroke-width="0.9"/>
<text x="41.6" y="642.08" font-size="8.6" text-anchor="end" fill="#000">0</text>
<line x1="45.75" y1="597.4" x2="47.75" y2="597.4" stroke="#4d4d4d" stroke-width="0.9"/>
<text x="41.6" y="600.48" font-size="8.6" text-anchor="end" fill="#000">10</text>
<line x1="45.75" y1="555.8" x2="47.75" y2="555.8" stroke="#4d4d4d" stroke-width="0.9"/>
<text x="41.6" y="558.88" font-size="8.6" text-anchor="end" fill="#000">20</text>
<line x1="45.75" y1="514.5" x2="47.75" y2="514.5" stroke="#4d4d4d" stroke-width="0.9"/>
<text x="41.6" y="517.58" font-size="8.6" text-anchor="end" fill="#000">30</text>
<text x="13.5" y="581.25" font-size="10.6" text-anchor="middle" fill="#000" transform="rotate(-90 13.5 581.25)">disease duration at sampling</text>
<text x="26.5" y="581" font-size="10.6" text-anchor="middle" fill="#000" transform="rotate(-90 26.5 581)">(years)</text>
<text x="152" y="686.25" font-size="10.6" text-anchor="middle" fill="#000">number of chromosomal aberrations</text>
<text x="218.1" y="513.25" font-size="10.6" text-anchor="middle" fill="#000" font-style="italic">P = 0.273</text>
<text x="291" y="490" font-size="18" text-anchor="middle" fill="#000" font-weight="bold">D</text>
<rect x="318.75" y="497.5" width="198.75" height="163" fill="#fff" stroke="#999" stroke-width="1"/>
<line x1="318.75" y1="497.5" x2="318.75" y2="660.5" stroke="#4d4d4d" stroke-width="1"/>
<line x1="318.25" y1="660.5" x2="518" y2="660.5" stroke="#4d4d4d" stroke-width="1"/>
<line x1="346.75" y1="527.5" x2="346.75" y2="554.5" stroke="#6c6c6c" stroke-width="1"/>
<line x1="346.75" y1="585" x2="346.75" y2="628.75" stroke="#6c6c6c" stroke-width="1"/>
<line x1="343.5" y1="527.5" x2="350" y2="527.5" stroke="#6c6c6c" stroke-width="0.9"/>
<line x1="343.5" y1="628.75" x2="350" y2="628.75" stroke="#6c6c6c" stroke-width="0.9"/>
<rect x="340.5" y="554.5" width="12.5" height="30.5" fill="#9e9e9e" stroke="#7a7a7a" stroke-width="0.9"/>
<line x1="340.5" y1="569.5" x2="353" y2="569.5" stroke="#2a2a2a" stroke-width="1.3"/>
<line x1="382.5" y1="535" x2="382.5" y2="554.5" stroke="#6c6c6c" stroke-width="1"/>
<line x1="382.5" y1="578.75" x2="382.5" y2="609.5" stroke="#6c6c6c" stroke-width="1"/>
<line x1="379.25" y1="535" x2="385.75" y2="535" stroke="#6c6c6c" stroke-width="0.9"/>
<line x1="379.25" y1="609.5" x2="385.75" y2="609.5" stroke="#6c6c6c" stroke-width="0.9"/>
<rect x="376.25" y="554.5" width="12.5" height="24.25" fill="#9e9e9e" stroke="#7a7a7a" stroke-width="0.9"/>
<line x1="376.25" y1="564.25" x2="388.75" y2="564.25" stroke="#2a2a2a" stroke-width="1.3"/>
<line x1="418.1" y1="536.75" x2="418.1" y2="550.5" stroke="#6c6c6c" stroke-width="1"/>
<line x1="418.1" y1="574.25" x2="418.1" y2="603.75" stroke="#6c6c6c" stroke-width="1"/>
<line x1="414.85" y1="536.75" x2="421.35" y2="536.75" stroke="#6c6c6c" stroke-width="0.9"/>
<line x1="414.85" y1="603.75" x2="421.35" y2="603.75" stroke="#6c6c6c" stroke-width="0.9"/>
<rect x="411.73" y="550.5" width="12.75" height="23.75" fill="#9e9e9e" stroke="#7a7a7a" stroke-width="0.9"/>
<line x1="411.73" y1="564.5" x2="424.48" y2="564.5" stroke="#2a2a2a" stroke-width="1.3"/>
<line x1="453.75" y1="536.25" x2="453.75" y2="547" stroke="#6c6c6c" stroke-width="1"/>
<line x1="453.75" y1="560.75" x2="453.75" y2="579.25" stroke="#6c6c6c" stroke-width="1"/>
<line x1="450.5" y1="536.25" x2="457" y2="536.25" stroke="#6c6c6c" stroke-width="0.9"/>
<line x1="450.5" y1="579.25" x2="457" y2="579.25" stroke="#6c6c6c" stroke-width="0.9"/>
<rect x="447.5" y="547" width="12.5" height="13.75" fill="#9e9e9e" stroke="#7a7a7a" stroke-width="0.9"/>
<line x1="447.5" y1="553.25" x2="460" y2="553.25" stroke="#2a2a2a" stroke-width="1.3"/>
<line x1="489.5" y1="525.75" x2="489.5" y2="534.25" stroke="#6c6c6c" stroke-width="1"/>
<line x1="489.5" y1="563" x2="489.5" y2="575" stroke="#6c6c6c" stroke-width="1"/>
<line x1="486.25" y1="525.75" x2="492.75" y2="525.75" stroke="#6c6c6c" stroke-width="0.9"/>
<line x1="486.25" y1="575" x2="492.75" y2="575" stroke="#6c6c6c" stroke-width="0.9"/>
<rect x="483.25" y="534.25" width="12.5" height="28.75" fill="#9e9e9e" stroke="#7a7a7a" stroke-width="0.9"/>
<line x1="483.25" y1="546.25" x2="495.75" y2="546.25" stroke="#2a2a2a" stroke-width="1.3"/>
<line x1="346.25" y1="660.5" x2="346.25" y2="662.8" stroke="#4d4d4d" stroke-width="0.9"/>
<text x="346.25" y="672" font-size="9.3" text-anchor="middle" fill="#000">0</text>
<line x1="382" y1="660.5" x2="382" y2="662.8" stroke="#4d4d4d" stroke-width="0.9"/>
<text x="382" y="672" font-size="9.3" text-anchor="middle" fill="#000">1</text>
<line x1="418" y1="660.5" x2="418" y2="662.8" stroke="#4d4d4d" stroke-width="0.9"/>
<text x="418" y="672" font-size="9.3" text-anchor="middle" fill="#000">2</text>
<line x1="453.25" y1="660.5" x2="453.25" y2="662.8" stroke="#4d4d4d" stroke-width="0.9"/>
<text x="453.25" y="672" font-size="9.3" text-anchor="middle" fill="#000">3</text>
<line x1="489.25" y1="660.5" x2="489.25" y2="662.8" stroke="#4d4d4d" stroke-width="0.9"/>
<text x="489.25" y="672" font-size="9.3" text-anchor="middle" fill="#000">4</text>
<line x1="316.35" y1="660.3" x2="318.75" y2="660.3" stroke="#4d4d4d" stroke-width="0.9"/>
<text x="314" y="663.38" font-size="8.6" text-anchor="end" fill="#000">0</text>
<line x1="316.35" y1="631.1" x2="318.75" y2="631.1" stroke="#4d4d4d" stroke-width="0.9"/>
<text x="314" y="634.18" font-size="8.6" text-anchor="end" fill="#000">20</text>
<line x1="316.35" y1="601.8" x2="318.75" y2="601.8" stroke="#4d4d4d" stroke-width="0.9"/>
<text x="314" y="604.88" font-size="8.6" text-anchor="end" fill="#000">40</text>
<line x1="316.35" y1="572.5" x2="318.75" y2="572.5" stroke="#4d4d4d" stroke-width="0.9"/>
<text x="314" y="575.58" font-size="8.6" text-anchor="end" fill="#000">60</text>
<line x1="316.35" y1="543.3" x2="318.75" y2="543.3" stroke="#4d4d4d" stroke-width="0.9"/>
<text x="314" y="546.38" font-size="8.6" text-anchor="end" fill="#000">80</text>
<line x1="316.35" y1="514.2" x2="318.75" y2="514.2" stroke="#4d4d4d" stroke-width="0.9"/>
<text x="314" y="517.28" font-size="8.6" text-anchor="end" fill="#000">100</text>
<text x="278.7" y="585" font-size="10.6" text-anchor="middle" fill="#000" transform="rotate(-90 278.7 585)">patient age at sampling</text>
<text x="291.2" y="583.5" font-size="10.6" text-anchor="middle" fill="#000" transform="rotate(-90 291.2 583.5)">(years)</text>
<text x="413" y="685.5" font-size="10.6" text-anchor="middle" fill="#000">number of chromosomal aberrations</text>
<text x="490" y="511.75" font-size="10.6" text-anchor="middle" fill="#000" font-style="italic">P = 0.009</text>
<text x="51.2" y="746.25" font-size="18" text-anchor="middle" fill="#000" font-weight="bold">E</text>
<path d="M117 745V716H257.5" fill="none" stroke="#000" stroke-width="1.65" stroke-linejoin="miter"/>
<path d="M315 716H446.5V745" fill="none" stroke="#000" stroke-width="1.65" stroke-linejoin="miter"/>
<text x="287.2" y="719.5" font-size="10.6" text-anchor="middle" fill="#000" font-style="italic">P &lt; 0.001</text>
<path d="M146.5 745.5V734.5H180" fill="none" stroke="#000" stroke-width="1.65" stroke-linejoin="miter"/>
<path d="M234.25 734.5H267.5V745.5" fill="none" stroke="#000" stroke-width="1.65" stroke-linejoin="miter"/>
<text x="207.5" y="738.25" font-size="10.6" text-anchor="middle" fill="#000" font-style="italic">P &lt; 0.001</text>
<path d="M292.5 744.5V733.5H325.75" fill="none" stroke="#000" stroke-width="1.65" stroke-linejoin="miter"/>
<path d="M380 733.5H413.25V744.5" fill="none" stroke="#000" stroke-width="1.65" stroke-linejoin="miter"/>
<text x="353.5" y="737" font-size="10.6" text-anchor="middle" fill="#000" font-style="italic">P &lt; 0.001</text>
<rect x="91.75" y="771.75" width="126.5" height="166.75" fill="#fff" stroke="#999" stroke-width="1"/>
<rect x="99.3" y="803" width="10" height="135.5" fill="#9e9e9e" stroke="#505050" stroke-width="0.9"/>
<rect x="111.85" y="835" width="10" height="103.5" fill="#9e9e9e" stroke="#505050" stroke-width="0.9"/>
<rect x="124.4" y="899.25" width="10" height="39.25" fill="#9e9e9e" stroke="#505050" stroke-width="0.9"/>
<rect x="136.95" y="922.75" width="10" height="15.75" fill="#9e9e9e" stroke="#505050" stroke-width="0.9"/>
<rect x="149.5" y="935.25" width="10" height="3.25" fill="#9e9e9e" stroke="#505050" stroke-width="0.9"/>
<rect x="162.05" y="937.6" width="10" height="0.9" fill="#9e9e9e" stroke="#505050" stroke-width="0.9"/>
<rect x="174.6" y="937.6" width="10" height="0.9" fill="#9e9e9e" stroke="#505050" stroke-width="0.9"/>
<line x1="187.15" y1="938.5" x2="197.15" y2="938.5" stroke="#505050" stroke-width="0.9"/>
<line x1="199.7" y1="938.5" x2="209.7" y2="938.5" stroke="#505050" stroke-width="0.9"/>
<line x1="91.25" y1="938.5" x2="218.75" y2="938.5" stroke="#333" stroke-width="1"/>
<line x1="91.75" y1="771.75" x2="91.75" y2="939" stroke="#333" stroke-width="1.1"/>
<line x1="104.3" y1="938.5" x2="104.3" y2="940.8" stroke="#333" stroke-width="0.9"/>
<text x="104.3" y="953.5" font-size="10.4" text-anchor="middle" fill="#000">0</text>
<line x1="116.85" y1="938.5" x2="116.85" y2="940.8" stroke="#333" stroke-width="0.9"/>
<text x="116.85" y="953.5" font-size="10.4" text-anchor="middle" fill="#000">1</text>
<line x1="129.4" y1="938.5" x2="129.4" y2="940.8" stroke="#333" stroke-width="0.9"/>
<text x="129.4" y="953.5" font-size="10.4" text-anchor="middle" fill="#000">2</text>
<line x1="141.95" y1="938.5" x2="141.95" y2="940.8" stroke="#333" stroke-width="0.9"/>
<text x="141.95" y="953.5" font-size="10.4" text-anchor="middle" fill="#000">3</text>
<line x1="154.5" y1="938.5" x2="154.5" y2="940.8" stroke="#333" stroke-width="0.9"/>
<text x="154.5" y="953.5" font-size="10.4" text-anchor="middle" fill="#000">4</text>
<line x1="167.05" y1="938.5" x2="167.05" y2="940.8" stroke="#333" stroke-width="0.9"/>
<text x="167.05" y="953.5" font-size="10.4" text-anchor="middle" fill="#000">5</text>
<line x1="179.6" y1="938.5" x2="179.6" y2="940.8" stroke="#333" stroke-width="0.9"/>
<text x="179.6" y="953.5" font-size="10.4" text-anchor="middle" fill="#000">6</text>
<line x1="192.15" y1="938.5" x2="192.15" y2="940.8" stroke="#333" stroke-width="0.9"/>
<text x="192.15" y="953.5" font-size="10.4" text-anchor="middle" fill="#000">7</text>
<line x1="204.7" y1="938.5" x2="204.7" y2="940.8" stroke="#333" stroke-width="0.9"/>
<text x="204.7" y="953.5" font-size="10.4" text-anchor="middle" fill="#000">8+</text>
<text x="155.6" y="764.5" font-size="10.6" text-anchor="middle" fill="#000">chronic phase</text>
<rect x="223.75" y="771.75" width="126.85" height="166.75" fill="#fff" stroke="#999" stroke-width="1"/>
<rect x="231.6" y="902.25" width="10" height="36.25" fill="#9e9e9e" stroke="#505050" stroke-width="0.9"/>
<rect x="244.25" y="824.5" width="10" height="114" fill="#9e9e9e" stroke="#505050" stroke-width="0.9"/>
<rect x="256.9" y="871.5" width="10" height="67" fill="#9e9e9e" stroke="#505050" stroke-width="0.9"/>
<rect x="269.55" y="892.25" width="10" height="46.25" fill="#9e9e9e" stroke="#505050" stroke-width="0.9"/>
<rect x="282.2" y="912.75" width="10" height="25.75" fill="#9e9e9e" stroke="#505050" stroke-width="0.9"/>
<rect x="294.85" y="933.5" width="10" height="5" fill="#9e9e9e" stroke="#505050" stroke-width="0.9"/>
<line x1="307.5" y1="938.5" x2="317.5" y2="938.5" stroke="#505050" stroke-width="0.9"/>
<line x1="320.15" y1="938.5" x2="330.15" y2="938.5" stroke="#505050" stroke-width="0.9"/>
<rect x="332.8" y="933.5" width="10" height="5" fill="#9e9e9e" stroke="#505050" stroke-width="0.9"/>
<line x1="223.25" y1="938.5" x2="351.1" y2="938.5" stroke="#333" stroke-width="1"/>
<line x1="223.75" y1="771.75" x2="223.75" y2="939" stroke="#333" stroke-width="1.1"/>
<line x1="236.6" y1="938.5" x2="236.6" y2="940.8" stroke="#333" stroke-width="0.9"/>
<text x="236.6" y="953.5" font-size="10.4" text-anchor="middle" fill="#000">0</text>
<line x1="249.25" y1="938.5" x2="249.25" y2="940.8" stroke="#333" stroke-width="0.9"/>
<text x="249.25" y="953.5" font-size="10.4" text-anchor="middle" fill="#000">1</text>
<line x1="261.9" y1="938.5" x2="261.9" y2="940.8" stroke="#333" stroke-width="0.9"/>
<text x="261.9" y="953.5" font-size="10.4" text-anchor="middle" fill="#000">2</text>
<line x1="274.55" y1="938.5" x2="274.55" y2="940.8" stroke="#333" stroke-width="0.9"/>
<text x="274.55" y="953.5" font-size="10.4" text-anchor="middle" fill="#000">3</text>
<line x1="287.2" y1="938.5" x2="287.2" y2="940.8" stroke="#333" stroke-width="0.9"/>
<text x="287.2" y="953.5" font-size="10.4" text-anchor="middle" fill="#000">4</text>
<line x1="299.85" y1="938.5" x2="299.85" y2="940.8" stroke="#333" stroke-width="0.9"/>
<text x="299.85" y="953.5" font-size="10.4" text-anchor="middle" fill="#000">5</text>
<line x1="312.5" y1="938.5" x2="312.5" y2="940.8" stroke="#333" stroke-width="0.9"/>
<text x="312.5" y="953.5" font-size="10.4" text-anchor="middle" fill="#000">6</text>
<line x1="325.15" y1="938.5" x2="325.15" y2="940.8" stroke="#333" stroke-width="0.9"/>
<text x="325.15" y="953.5" font-size="10.4" text-anchor="middle" fill="#000">7</text>
<line x1="337.8" y1="938.5" x2="337.8" y2="940.8" stroke="#333" stroke-width="0.9"/>
<text x="337.8" y="953.5" font-size="10.4" text-anchor="middle" fill="#000">8+</text>
<text x="286.25" y="764.5" font-size="10.6" text-anchor="middle" fill="#000">sec. MF / acc. phase</text>
<rect x="356.25" y="771.75" width="127" height="166.75" fill="#fff" stroke="#999" stroke-width="1"/>
<rect x="364.2" y="928.5" width="10" height="10" fill="#9e9e9e" stroke="#505050" stroke-width="0.9"/>
<rect x="376.82" y="866.5" width="10" height="72" fill="#9e9e9e" stroke="#505050" stroke-width="0.9"/>
<rect x="389.44" y="918" width="10" height="20.5" fill="#9e9e9e" stroke="#505050" stroke-width="0.9"/>
<rect x="402.06" y="897.25" width="10" height="41.25" fill="#9e9e9e" stroke="#505050" stroke-width="0.9"/>
<rect x="414.68" y="907.75" width="10" height="30.75" fill="#9e9e9e" stroke="#505050" stroke-width="0.9"/>
<rect x="427.3" y="928.5" width="10" height="10" fill="#9e9e9e" stroke="#505050" stroke-width="0.9"/>
<rect x="439.92" y="897.25" width="10" height="41.25" fill="#9e9e9e" stroke="#505050" stroke-width="0.9"/>
<line x1="452.54" y1="938.5" x2="462.54" y2="938.5" stroke="#505050" stroke-width="0.9"/>
<rect x="465.16" y="866.5" width="10" height="72" fill="#9e9e9e" stroke="#505050" stroke-width="0.9"/>
<line x1="355.75" y1="938.5" x2="483.75" y2="938.5" stroke="#333" stroke-width="1"/>
<line x1="356.25" y1="771.75" x2="356.25" y2="939" stroke="#333" stroke-width="1.1"/>
<line x1="369.2" y1="938.5" x2="369.2" y2="940.8" stroke="#333" stroke-width="0.9"/>
<text x="369.2" y="953.5" font-size="10.4" text-anchor="middle" fill="#000">0</text>
<line x1="381.82" y1="938.5" x2="381.82" y2="940.8" stroke="#333" stroke-width="0.9"/>
<text x="381.82" y="953.5" font-size="10.4" text-anchor="middle" fill="#000">1</text>
<line x1="394.44" y1="938.5" x2="394.44" y2="940.8" stroke="#333" stroke-width="0.9"/>
<text x="394.44" y="953.5" font-size="10.4" text-anchor="middle" fill="#000">2</text>
<line x1="407.06" y1="938.5" x2="407.06" y2="940.8" stroke="#333" stroke-width="0.9"/>
<text x="407.06" y="953.5" font-size="10.4" text-anchor="middle" fill="#000">3</text>
<line x1="419.68" y1="938.5" x2="419.68" y2="940.8" stroke="#333" stroke-width="0.9"/>
<text x="419.68" y="953.5" font-size="10.4" text-anchor="middle" fill="#000">4</text>
<line x1="432.3" y1="938.5" x2="432.3" y2="940.8" stroke="#333" stroke-width="0.9"/>
<text x="432.3" y="953.5" font-size="10.4" text-anchor="middle" fill="#000">5</text>
<line x1="444.92" y1="938.5" x2="444.92" y2="940.8" stroke="#333" stroke-width="0.9"/>
<text x="444.92" y="953.5" font-size="10.4" text-anchor="middle" fill="#000">6</text>
<line x1="457.54" y1="938.5" x2="457.54" y2="940.8" stroke="#333" stroke-width="0.9"/>
<text x="457.54" y="953.5" font-size="10.4" text-anchor="middle" fill="#000">7</text>
<line x1="470.16" y1="938.5" x2="470.16" y2="940.8" stroke="#333" stroke-width="0.9"/>
<text x="470.16" y="953.5" font-size="10.4" text-anchor="middle" fill="#000">8+</text>
<text x="422.25" y="764.5" font-size="10.6" text-anchor="middle" fill="#000">post-MPN AML</text>
<line x1="88.3" y1="938.7" x2="91.5" y2="938.7" stroke="#333" stroke-width="0.9"/>
<text x="85.6" y="942.42" font-size="10.4" text-anchor="end" fill="#000">0</text>
<line x1="88.3" y1="908.6" x2="91.5" y2="908.6" stroke="#333" stroke-width="0.9"/>
<text x="85.6" y="912.32" font-size="10.4" text-anchor="end" fill="#000">10</text>
<line x1="88.3" y1="878.6" x2="91.5" y2="878.6" stroke="#333" stroke-width="0.9"/>
<text x="85.6" y="882.32" font-size="10.4" text-anchor="end" fill="#000">20</text>
<line x1="88.3" y1="848.5" x2="91.5" y2="848.5" stroke="#333" stroke-width="0.9"/>
<text x="85.6" y="852.22" font-size="10.4" text-anchor="end" fill="#000">30</text>
<line x1="88.3" y1="818.5" x2="91.5" y2="818.5" stroke="#333" stroke-width="0.9"/>
<text x="85.6" y="822.22" font-size="10.4" text-anchor="end" fill="#000">40</text>
<line x1="88.3" y1="788.5" x2="91.5" y2="788.5" stroke="#333" stroke-width="0.9"/>
<text x="85.6" y="792.22" font-size="10.4" text-anchor="end" fill="#000">50</text>
<text x="65.5" y="867" font-size="10.6" text-anchor="middle" fill="#000" transform="rotate(-90 65.5 867)">% of patients per panel</text>
<text x="276.75" y="969.5" font-size="10.6" text-anchor="middle" fill="#000">number of chromosomal aberrations</text>
</svg>
</body>
</html>
